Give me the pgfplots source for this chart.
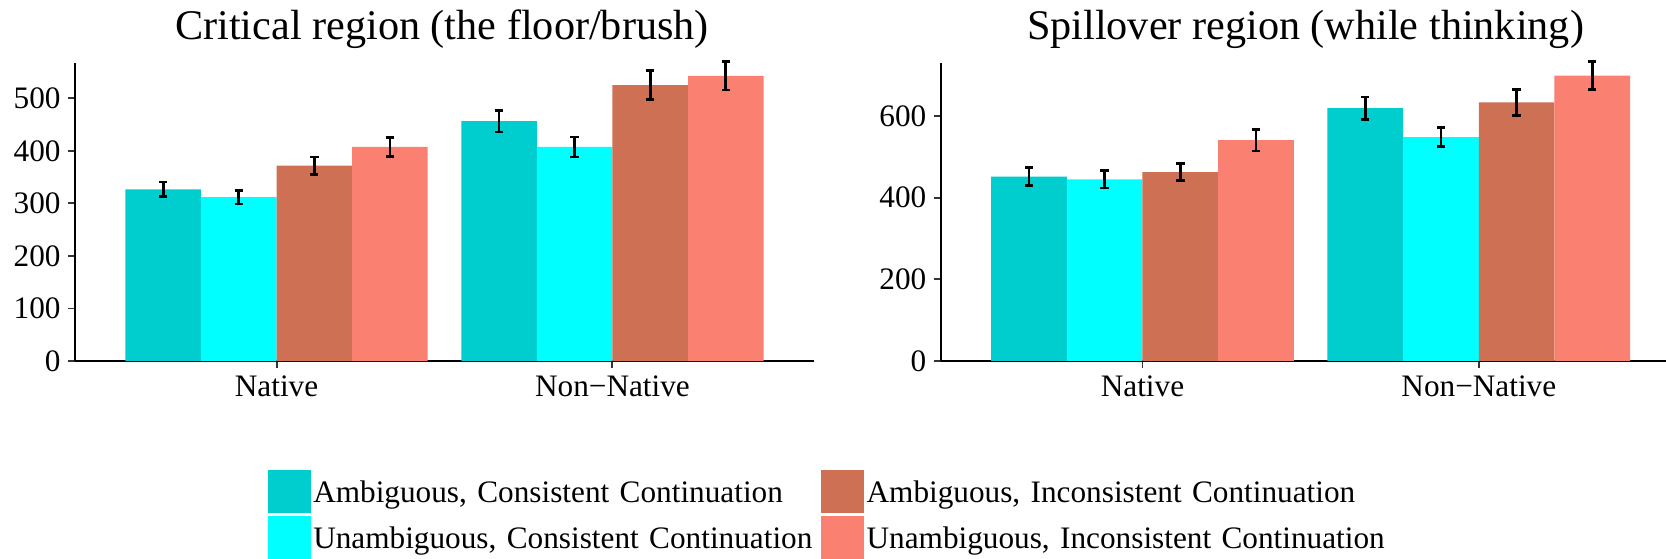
\documentclass[border=0pt]{standalone}
\usepackage{fontspec}
\setmainfont{Liberation Serif}
\usepackage{pgfplots}
\pgfplotsset{compat=1.18}

\definecolor{aCons}{HTML}{00CDCD}
\definecolor{uCons}{HTML}{00FFFF}
\definecolor{aInc}{HTML}{CD7054}
\definecolor{uInc}{HTML}{FA8072}

\pgfplotsset{
  rtbars/.style={
    scale only axis, width=266.04pt, height=107.39pt,
    anchor=south west,
    ybar=0pt, bar width=0.225,
    xmin=0.4, xmax=2.6, ymin=0,
    axis lines*=left,
    axis line style={line width=0.7pt},
    tick align=outside, major tick length=2.5pt,
    tick style={line width=0.7pt, color=black!80},
    xtick={1,2}, xticklabels={Native,Non−Native},
    ticklabel style={font=\fontsize{11.25}{13}\selectfont},
    /pgf/number format/assume math mode=true,
    xticklabel style={inner sep=0pt, yshift=-2.5pt},
    yticklabel style={inner sep=0pt, xshift=-2.5pt},
    clip=false,
    error bars/y dir=both, error bars/y explicit,
    error bars/error bar style={line width=1pt, draw=black},
    error bars/error mark=-,
    error bars/error mark options={rotate=90, draw=black, solid, line width=1pt, mark size=1.5pt},
    every axis title/.style={at={(0.5,1)}, anchor=base, font=\fontsize{15.2}{18}\selectfont},
    legend image code/.code={\fill[##1] (0pt,-7.68pt) rectangle (15.5pt,7.68pt); \path (16.3pt,0pt);},
  }
}

\begin{document}
\begin{tikzpicture}
\path[use as bounding box] (0,0) rectangle (599.76pt,200.88pt);

% critical region
\begin{axis}[rtbars,
    at={(27pt,70.92pt)},
    ymax=568, ytick={0,100,200,300,400,500},
    title={Critical region (the floor/brush)},
    title style={at={(axis description cs:0.4966,1.0761)}},
    legend columns=2, transpose legend,
    legend style={at={(axis description cs:0.2612,-0.3654)}, anchor=north west,
      draw=none, fill=none, inner sep=0pt, outer sep=0pt,
      row sep=1.2pt, column sep=0pt,
      font=\fontsize{11.25}{13}\selectfont,
      nodes={inner sep=0pt, text depth=0pt, text width=182.9pt, align=left}},
    legend cell align=left,
  ]
  \addplot[fill=aCons, draw=none] coordinates {(1,327) +- (0,14) (2,456.5) +- (0,20.5)};
  \addplot[fill=uCons, draw=none] coordinates {(1,312) +- (0,13) (2,407.5) +- (0,19)};
  \addplot[fill=aInc, draw=none] coordinates {(1,372) +- (0,16.5) (2,525.5) +- (0,27)};
  \addplot[fill=uInc, draw=none] coordinates {(1,407.5) +- (0,18) (2,543) +- (0,27)};
  \legend{\mbox{Ambiguous, Consistent Continuation}, \mbox{Unambiguous, Consistent Continuation},
          \mbox{Ambiguous, Inconsistent Continuation}, \mbox{Unambiguous, Inconsistent Continuation}}
\end{axis}

% spillover region
\begin{axis}[rtbars,
    at={(338.65pt,70.92pt)},
    width=261.1pt, xmax=2.5565,
    ymax=731, ytick={0,200,400,600},
    title={Spillover region (while thinking)},
    title style={at={(axis description cs:0.503,1.0761)}},
  ]
  \addplot[fill=aCons, draw=none] coordinates {(1,452) +- (0,21.5) (2,619.5) +- (0,27.5)};
  \addplot[fill=uCons, draw=none] coordinates {(1,445) +- (0,21) (2,548.5) +- (0,23)};
  \addplot[fill=aInc, draw=none] coordinates {(1,463) +- (0,20) (2,634) +- (0,32)};
  \addplot[fill=uInc, draw=none] coordinates {(1,541) +- (0,26.5) (2,699) +- (0,34)};
\end{axis}
\end{tikzpicture}
\end{document}
